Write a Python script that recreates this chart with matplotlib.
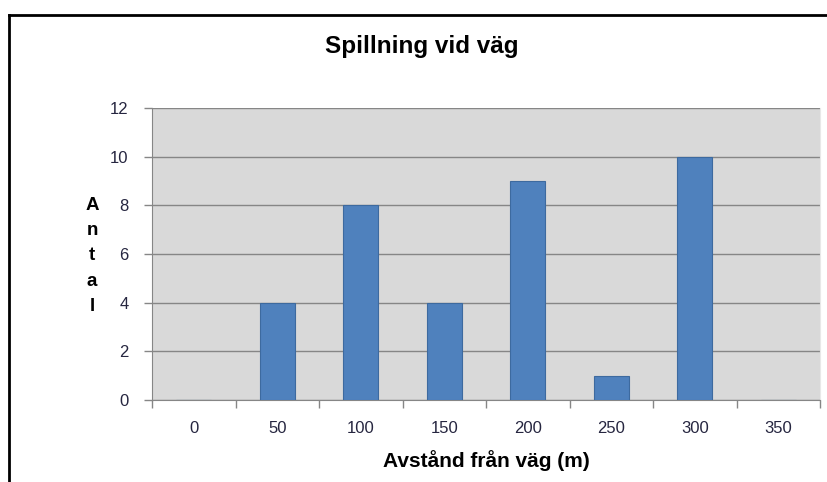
import matplotlib
matplotlib.use("Agg")
import matplotlib.pyplot as plt
from matplotlib.lines import Line2D
import numpy as np

categories = ["0", "50", "100", "150", "200", "250", "300", "350"]
values = [0, 4, 8, 4, 9, 1, 10, 0]
yticks = [0, 2, 4, 6, 8, 10, 12]

plt.rcParams['font.family'] = ['Liberation Sans', 'DejaVu Sans']

fig = plt.figure(figsize=(8.28, 4.82), dpi=100)
ax = fig.add_axes([152/828, 82/482, 668/828, 292/482])
ax.set_facecolor("#d9d9d9")

x = np.arange(len(categories))
ax.bar(x, values, width=0.42, color="#4f81bd", edgecolor="#3d6a9f", linewidth=0.8, zorder=3)

ax.set_xlim(-0.5, len(categories) - 0.5)
ax.set_ylim(0, 12)
ax.set_yticks(yticks)
ax.yaxis.grid(True, color="#868686", linewidth=1.0, zorder=1)
ax.set_axisbelow(True)

ax.set_xticks(x)
ax.set_xticklabels(categories)
ax.set_xticks(np.arange(-0.5, len(categories)), minor=True)
ax.tick_params(axis='x', which='major', length=0, pad=15, labelsize=12, labelcolor="#262640")
ax.tick_params(axis='x', which='minor', length=6, direction='out', color="#868686", width=1)
ax.tick_params(axis='y', length=6, direction='out', color="#868686", width=1, pad=11, labelsize=12, labelcolor="#262640")

ax.spines["top"].set_visible(False)
ax.spines["right"].set_color("#e8e8e8")
ax.spines["left"].set_color("#868686")
ax.spines["bottom"].set_color("#868686")

fig.text(422/828, 1 - 47/482, "Spillning vid väg", ha="center", va="center", fontsize=17.5, fontweight="bold")
fig.text(486/828, 1 - 461/482, "Avstånd från väg (m)", ha="center", va="center", fontsize=15, fontweight="bold")
fig.text(92/828, 1 - 256/482, "A\nn\nt\na\nl", ha="center", va="center", fontsize=13.5, fontweight="bold", linespacing=1.65)

# chart frame (left and top borders)
fig.add_artist(Line2D([9/828, 9/828], [0, 1 - 15/482], transform=fig.transFigure, color="black", linewidth=2))
fig.add_artist(Line2D([9/828, 1], [1 - 15/482, 1 - 15/482], transform=fig.transFigure, color="black", linewidth=2))

fig.savefig("out.png", dpi=100)
